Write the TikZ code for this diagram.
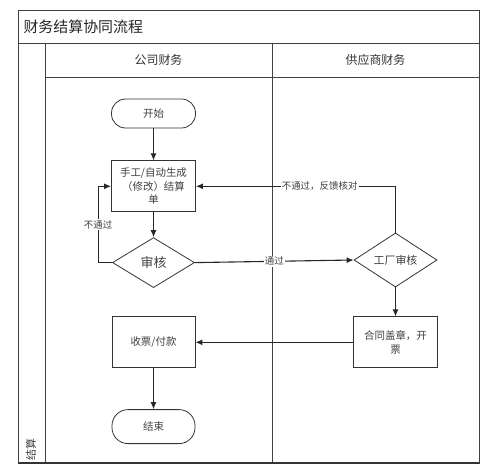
\documentclass[tikz,border=0pt]{standalone}
\usepackage{fontspec}
\setmainfont{Noto Sans CJK SC}
\usetikzlibrary{shapes.geometric, arrows.meta, positioning}

\begin{document}
\begin{tikzpicture}[
    x=1bp, y=-1bp,
    % Style definitions
    frame/.style={draw=black!75, line width=0.9bp},
    header/.style={font=\fontsize{12}{14}\selectfont, text=black!80},
    terminal/.style={rectangle, rounded corners=14bp, minimum width=84bp, minimum height=29bp,
                     text centered, draw=black!80, line width=0.8bp,
                     font=\fontsize{10.5}{13}\selectfont, text=black!75},
    process/.style={rectangle, minimum width=84bp, minimum height=51bp, inner sep=2bp,
                    align=center, draw=black!80, line width=0.8bp,
                    font=\fontsize{10.5}{13.5}\selectfont, text=black!75},
    decision/.style={diamond, minimum width=82bp, minimum height=50bp, inner sep=0pt,
                     text centered, draw=black!80, line width=0.8bp,
                     font=\fontsize{11}{13}\selectfont, text=black!75},
    arrow/.style={-{Latex[length=7bp, width=6bp]}, line width=1.1bp, black!85},
    lbl/.style={fill=white, inner sep=1bp, font=\fontsize{9.5}{11}\selectfont, text=black!75},
]
\useasboundingbox (0,0) rectangle (499,472);

% Pool and lanes
\draw[frame] (18,10) rectangle (479,463);
\draw[frame] (18,43) -- (479,43);
\draw[frame] (45,77) -- (479,77);
\draw[frame] (45,43) -- (45,463);
\draw[frame] (272,43) -- (272,463);
\draw[black!80, line width=1.4bp] (18,463) -- (479,463);

\node[anchor=west, font=\fontsize{15}{18}\selectfont, text=black!85] (title) at (20,27) {财务结算协同流程};
\node[header] (company) at (158.5,60) {公司财务};
\node[header] (supplier) at (375.5,60) {供应商财务};
\node[rotate=90, anchor=west, inner sep=1bp, font=\fontsize{11}{13}\selectfont, text=black!75] (stage) at (31,462) {结算};

% Company finance lane
\node[terminal] (start) at (153.5,113.5) {开始};
\node[process, below=32bp of start] (draft) {手工/自动生成\\（修改）结算\\单};
\node[decision, below=25bp of draft, font=\fontsize{13}{15}\selectfont] (audit) {审核};

% Supplier finance lane
\node[decision, minimum width=83bp] (factory) at (395.5,260) {工厂审核};
\node[process, below=29bp of factory] (invoice) {合同盖章，开\\票};

% Back in company lane
\node[process, minimum width=83bp] (pay) at (start |- invoice) {收票/付款};
\node[terminal, minimum width=83bp, minimum height=34bp, rounded corners=16bp, below=41bp of pay] (finish) {结束};

% Arrows
\draw[arrow] (start) -- (draft);
\draw[arrow] (draft) -- (audit);
\draw[arrow] (audit.west) -- ++(-14,0) |- node[lbl, pos=0.25] {不通过} (draft.west);
\draw[arrow] (audit.east) -- node[lbl, pos=0.5] {通过} (factory.west);
\draw[arrow] (factory.north) |- node[lbl, pos=0.69] {不通过，反馈核对} (draft.east);
\draw[arrow] (factory) -- (invoice);
\draw[arrow] (invoice) -- (pay);
\draw[arrow] (pay) -- (finish);

\end{tikzpicture}
\end{document}
